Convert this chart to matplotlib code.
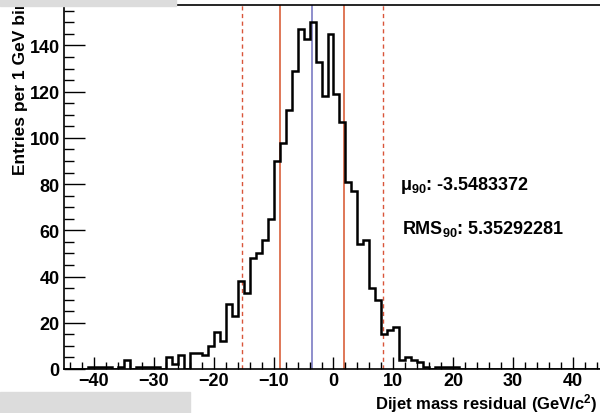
import numpy as np
import matplotlib
matplotlib.use("Agg")
import matplotlib.pyplot as plt
from matplotlib.patches import Rectangle

# Histogram, 1 GeV bins from -45 to 45
bin_edges = list(range(-45, 46))
counts = [0, 0, 0, 0, 1, 1, 1, 1, 0, 1,          # -45 .. -36
          4, 0, 1, 1, 1, 1, 0, 5, 2, 6,          # -35 .. -26
          0, 7, 7, 6, 10, 16, 12, 28, 23, 38,    # -25 .. -16
          33, 48, 50, 56, 65, 90, 98, 112, 129, 147,  # -15 .. -6
          143, 150, 133, 118, 145,               # -5 .. -1
          119, 107, 81, 77, 54, 56, 35, 30, 15, 17,  # 0 .. 9
          18, 4, 5, 4, 3, 1, 0, 1, 1, 1,          # 10 .. 19
          1, 0, 0, 0, 0, 0, 0, 0, 0, 0,           # 20 .. 29
          0, 0, 0, 0, 0, 0, 0, 0, 0, 0,           # 30 .. 39
          0, 0, 0, 0, 0]                          # 40 .. 44

mu90 = -3.5483372
rms90 = 5.35292281
solid_lines = [-8.85, 1.75]     # red solid
dashed_lines = [-15.2, 8.3]     # red dashed

plt.rcParams['font.family'] = ['Liberation Sans', 'DejaVu Sans']
plt.rcParams['font.weight'] = 'bold'
plt.rcParams['mathtext.fontset'] = 'custom'
plt.rcParams['mathtext.rm'] = 'Liberation Sans:bold'
plt.rcParams['mathtext.bf'] = 'Liberation Sans:bold'
plt.rcParams['mathtext.it'] = 'Liberation Sans:bold'

H = 414
fig = plt.figure(figsize=(6, 4.14), dpi=100)
ax = fig.add_axes([64/600, 1 - 370/H, (603 - 64)/600, (370 - 6)/H])

for x in dashed_lines:
    ax.axvline(x, color='#d9553a', lw=1.0, ls=(0, (3, 2.5)), zorder=1)
for x in solid_lines:
    ax.axvline(x, color='#d9603b', lw=1.2, zorder=1)
ax.axvline(mu90, color='#7b7bc4', lw=1.2, zorder=1)

ax.stairs(counts, bin_edges, color='black', lw=1.8, zorder=3)

ax.set_xlim(-45, 45)
ax.set_ylim(0, 157.5)
ax.set_xticks([-40, -30, -20, -10, 0, 10, 20, 30, 40])
ax.set_xticks(np.arange(-44, 45, 2), minor=True)
ax.set_yticks([0, 20, 40, 60, 80, 100, 120, 140])
ax.set_yticks(np.arange(0, 158, 5), minor=True)

ax.tick_params(axis='x', which='major', direction='in', length=9, width=1, pad=2.5, labelsize=13)
ax.tick_params(axis='x', which='minor', direction='in', length=5, width=1)
ax.tick_params(axis='y', which='major', direction='in', length=15, width=1, pad=3, labelsize=13)
ax.tick_params(axis='y', which='minor', direction='in', length=7, width=1)
for lab in ax.get_xticklabels() + ax.get_yticklabels():
    lab.set_fontweight('bold')
for s in ax.spines.values():
    s.set_linewidth(1.2)

ax.set_xlabel('Dijet mass residual (GeV/c$^{2}$)', fontsize=12, fontweight='bold')
ax.xaxis.set_label_coords((598 - 64)/539, -(404 - 370)/364)
ax.xaxis.label.set_ha('right')
ax.xaxis.label.set_va('center')
ax.set_ylabel('Entries per 1 GeV bin', fontsize=12.5, fontweight='bold')
ax.yaxis.set_label_coords(-(64 - 21)/539, 1.02)
ax.yaxis.label.set_ha('right')
ax.yaxis.label.set_va('center')

ax.text(400, H - 190, 'μ$_{90}$: %.7f' % mu90, transform=None, fontsize=13,
        fontweight='bold', va='baseline')
ax.text(402, H - 234, 'RMS$_{90}$: %.8f' % rms90, transform=None, fontsize=13,
        fontweight='bold', va='baseline')

# gray slide boxes at the corners
fig.patches.append(Rectangle((0, 1 - 7/H), 176/600, 7/H, transform=fig.transFigure,
                             color='#dcdcdc', zorder=5))
fig.patches.append(Rectangle((0, 0), 190/600, 21/H, transform=fig.transFigure,
                             color='#dcdcdc', zorder=5))

fig.savefig('out.png', dpi=100)
